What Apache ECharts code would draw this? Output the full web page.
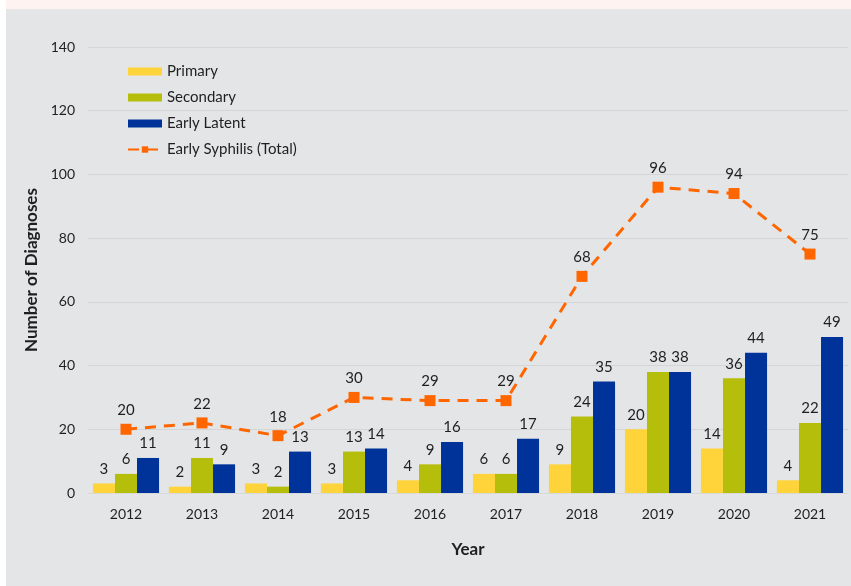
<!DOCTYPE html>
<html>
<head>
<meta charset="utf-8">
<script src="https://cdn.jsdelivr.net/npm/echarts@6/dist/echarts.min.js"></script>
<style>
  html, body { margin: 0; padding: 0; background: #ffffff; }
  #wrap { position: absolute; left: 6px; top: 0; width: 845px; height: 586px; background: #E4E5E7; }
  #band { position: absolute; left: 0; top: 0; width: 845px; height: 9px; background: #FFF3F1; }
  #chart { position: absolute; left: 0; top: 0; width: 851px; height: 586px; }
</style>
</head>
<body>
<div id="wrap"><div id="band"></div></div>
<div id="chart"></div>
<script>
// Early syphilis diagnoses by stage, 2012–2021
const years = ['2012', '2013', '2014', '2015', '2016', '2017', '2018', '2019', '2020', '2021'];
const primary = [3, 2, 3, 3, 4, 6, 9, 20, 14, 4];
const secondary = [6, 11, 2, 13, 9, 6, 24, 38, 36, 22];
const earlyLatent = [11, 9, 13, 14, 16, 17, 35, 38, 44, 49];
const earlyTotal = [20, 22, 18, 30, 29, 29, 68, 96, 94, 75];

const FONT = 'Lato, "Open Sans", sans-serif';
const textColor = '#1f1f1f';

const barLabel = {
  show: true,
  position: 'top',
  distance: 7,
  color: textColor,
  fontSize: 15,
  fontFamily: FONT
};

function barSeries(name, data, color) {
  return {
    name: name,
    type: 'bar',
    data: data,
    barGap: '0%',
    barCategoryGap: '13%',
    itemStyle: { color: color },
    label: barLabel,
    emphasis: { disabled: true },
    animation: false
  };
}

const chart = echarts.init(document.getElementById('chart'), null, { renderer: 'canvas' });
chart.setOption({
  backgroundColor: 'transparent',
  animation: false,
  grid: { left: 88, right: 3, top: 47, bottom: 93 },
  legend: {
    orient: 'vertical',
    left: 122,
    top: 59,
    itemWidth: 34,
    itemHeight: 8,
    itemGap: 11,
    textStyle: { color: textColor, fontSize: 15, fontFamily: FONT },
    data: [
      { name: 'Primary', icon: 'rect' },
      { name: 'Secondary', icon: 'rect' },
      { name: 'Early Latent', icon: 'rect' },
      { name: 'Early Syphilis (Total)' }
    ]
  },
  xAxis: {
    type: 'category',
    data: years,
    name: 'Year',
    nameLocation: 'middle',
    nameGap: 48,
    nameTextStyle: { color: textColor, fontSize: 17, fontWeight: 'bold', fontFamily: FONT },
    axisLine: { show: true, lineStyle: { color: '#D8D9DB', width: 1 } },
    axisTick: { show: false },
    axisLabel: { color: textColor, fontSize: 14, fontFamily: FONT, margin: 14 }
  },
  yAxis: {
    type: 'value',
    min: 0,
    max: 140,
    interval: 20,
    name: 'Number of Diagnoses',
    nameLocation: 'middle',
    nameGap: 47,
    nameRotate: 90,
    nameTextStyle: { color: textColor, fontSize: 17, fontWeight: 'bold', fontFamily: FONT },
    axisLine: { show: false },
    axisTick: { show: false },
    axisLabel: { color: textColor, fontSize: 14, fontFamily: FONT, margin: 13 },
    splitLine: { lineStyle: { color: '#D4D5D7', width: 1 } }
  },
  series: [
    barSeries('Primary', primary, '#FFD43B'),
    barSeries('Secondary', secondary, '#B6BE0C'),
    barSeries('Early Latent', earlyLatent, '#003399'),
    {
      name: 'Early Syphilis (Total)',
      type: 'line',
      data: earlyTotal,
      symbol: 'rect',
      symbolSize: 11,
      itemStyle: { color: '#FF6600' },
      lineStyle: { color: '#FF6600', width: 3, type: [11, 8] },
      label: {
        show: true,
        position: 'top',
        distance: 6,
        color: textColor,
        fontSize: 15,
        fontFamily: FONT
      },
      emphasis: { disabled: true },
      z: 5
    }
  ]
});
</script>
</body>
</html>
